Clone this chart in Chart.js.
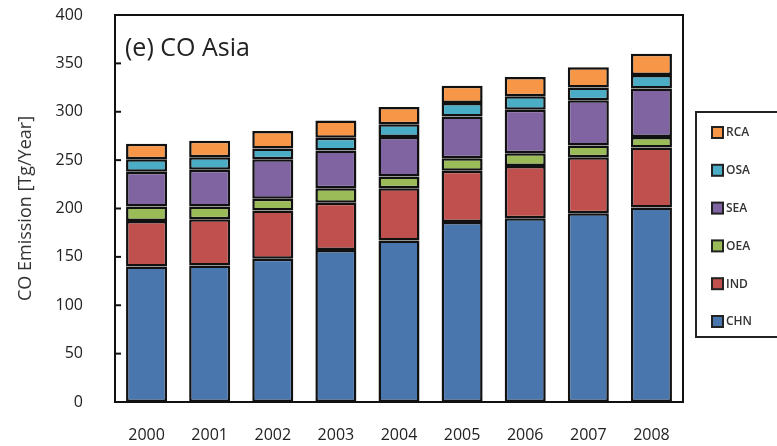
<!DOCTYPE html>
<html lang="en">
<head>
    <meta charset="UTF-8" />
    <title>CO Asia</title>
    <script src="https://cdn.jsdelivr.net/npm/chart.js@4.4.1/dist/chart.umd.min.js"></script>
    <style>
        html, body { margin: 0; padding: 0; background: #ffffff; }
        #wrap { width: 777px; height: 446px; position: relative; }
    </style>
</head>
<body>
    <div id="wrap"><canvas id="coChart"></canvas></div>
    <script>
        // data (Tg/Year)
        const years = ['2000', '2001', '2002', '2003', '2004', '2005', '2006', '2007', '2008'];
        const chn = [140, 141, 148, 157, 167, 186, 190, 195, 201];
        const ind = [47, 48, 50, 49, 54, 53, 54, 58, 62];
        const oea = [15, 13, 12, 15, 12, 13, 13, 12, 11];
        const sea = [36, 38, 41, 39, 41, 43, 45, 47, 50];
        const osa = [13, 13, 11, 13, 13, 14, 14, 13, 14];
        const rca = [16, 17, 18, 18, 18, 18, 20, 21, 22];
        const yTicks = [0, 50, 100, 150, 200, 250, 300, 350, 400];

        const FONT = "'Open Sans', sans-serif";

        const series = [
            { label: 'CHN', data: chn, color: '#4a76ae' },
            { label: 'IND', data: ind, color: '#c0504d' },
            { label: 'OEA', data: oea, color: '#9bbb59' },
            { label: 'SEA', data: sea, color: '#8064a2' },
            { label: 'OSA', data: osa, color: '#4bacc6' },
            { label: 'RCA', data: rca, color: '#f79646' }
        ];

        // frame, inward ticks, panel title and boxed legend
        const decor = {
            id: 'decor',
            afterDraw(chart) {
                const { ctx, chartArea: a, scales } = chart;
                ctx.save();
                ctx.strokeStyle = '#111';
                ctx.lineWidth = 2;
                ctx.strokeRect(a.left, a.top, a.right - a.left, a.bottom - a.top);
                yTicks.forEach(v => {
                    const y = scales.y.getPixelForValue(v);
                    ctx.beginPath();
                    ctx.moveTo(a.left, y);
                    ctx.lineTo(a.left + 6, y);
                    ctx.stroke();
                });
                ctx.fillStyle = '#222';
                ctx.font = '25px ' + FONT;
                ctx.textBaseline = 'alphabetic';
                ctx.fillText('(e) CO Asia', a.left + 10, a.top + 41);

                // legend
                const lx = 696, ly = 112, lh = 225;
                ctx.lineWidth = 2;
                ctx.strokeStyle = '#222';
                ctx.strokeRect(lx, ly, 100, lh);
                ctx.font = '600 12px ' + FONT;
                ctx.textBaseline = 'middle';
                const rev = series.slice().reverse();
                rev.forEach((s, i) => {
                    const cy = ly + 20 + i * 37.8;
                    ctx.fillStyle = s.color;
                    ctx.fillRect(712, cy - 5, 11, 11);
                    ctx.lineWidth = 2;
                    ctx.strokeStyle = '#222';
                    ctx.strokeRect(712, cy - 5, 11, 11);
                    ctx.fillStyle = '#333';
                    ctx.fillText(s.label, 726, cy + 1);
                });
                ctx.restore();
            }
        };

        new Chart(document.getElementById('coChart'), {
            type: 'bar',
            data: {
                labels: years,
                datasets: series.map(s => ({
                    label: s.label,
                    data: s.data,
                    backgroundColor: s.color,
                    borderColor: '#111',
                    borderWidth: 2.5,
                    borderSkipped: false,
                    barPercentage: 0.65,
                    categoryPercentage: 1
                }))
            },
            options: {
                responsive: true,
                maintainAspectRatio: false,
                animation: false,
                layout: { padding: { top: 15, right: 94, left: 0, bottom: 0 } },
                plugins: {
                    legend: { display: false },
                    tooltip: { enabled: false }
                },
                scales: {
                    x: {
                        stacked: true,
                        grid: { display: false, drawTicks: false },
                        border: { display: false },
                        ticks: { color: '#222', font: { family: FONT, size: 16 }, padding: 24 },
                        afterFit(scale) {
                            scale.height = 44;
                            scale.paddingLeft = 0;
                            scale.paddingRight = 0;
                        }
                    },
                    y: {
                        stacked: true,
                        min: 0,
                        max: 400,
                        afterBuildTicks(scale) { scale.ticks = yTicks.map(v => ({ value: v })); },
                        grid: { display: false, drawTicks: false },
                        border: { display: false },
                        ticks: { color: '#222', font: { family: FONT, size: 16 }, padding: 32 },
                        title: {
                            display: true,
                            text: 'CO Emission [Tg/Year]',
                            color: '#333',
                            font: { family: FONT, size: 18 },
                            padding: { top: 15, bottom: 0 }
                        },
                        afterFit(scale) {
                            scale.width = 115;
                            scale.paddingTop = 0;
                            scale.paddingBottom = 0;
                        }
                    }
                }
            },
            plugins: [decor]
        });
    </script>
</body>
</html>
